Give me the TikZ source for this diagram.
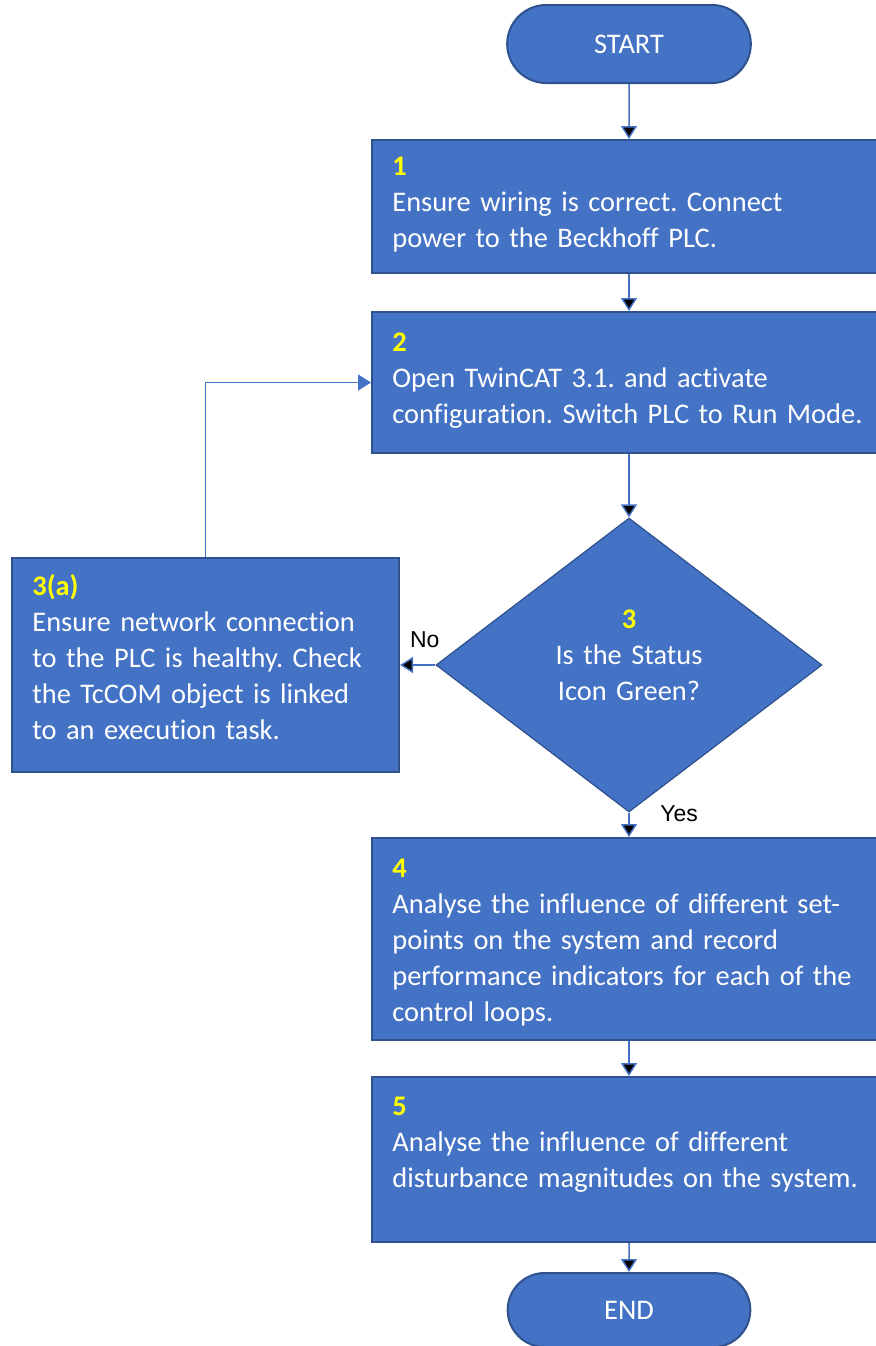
\documentclass[tikz,border=0pt]{standalone}
\usepackage{fontspec}
\setmainfont{Carlito}[Ligatures=CommonOff]
\newfontfamily\labelfont{Liberation Sans}
\usetikzlibrary{shapes.geometric,shapes.misc,arrows.meta}
\frenchspacing

\definecolor{boxfill}{HTML}{4472C4}
\definecolor{boxedge}{HTML}{2F528F}
\definecolor{stepyellow}{HTML}{FFFF00}
\newcommand{\stepno}[1]{\textcolor{stepyellow}{\textbf{#1}}}

\tikzset{
	stepbox/.style={shape=rectangle, draw=boxedge, fill=boxfill, line width=1pt, inner sep=0pt},
	terminal/.style={shape=rounded rectangle, draw=boxedge, fill=boxfill, line width=1pt, text=white, font=\fontsize{14.2}{18}\selectfont},
	decision/.style={shape=diamond, draw=boxedge, fill=boxfill, line width=0.6pt, inner sep=0pt},
	steptext/.style={anchor=base west, align=left, text width=260pt, inner sep=0pt, text=white, font=\fontsize{14.2}{18}\selectfont},
	flow/.style={draw=boxfill, line width=0.75pt, -{Triangle[width=8pt,length=6.5pt]}},
	answer/.style={font=\labelfont\fontsize{11.5}{14}\selectfont, text=black}
}

\begin{document}
\begin{tikzpicture}[x=0.5pt, y=-0.5pt]
	\useasboundingbox (0,0) rectangle (876,1346);
	\clip (0,0) rectangle (876,1346);

	% shapes
	\node[terminal, minimum width=128.5pt, minimum height=39pt] (start) at (629,44)     {START};
	\node[stepbox, minimum width=257pt, minimum height=66.5pt]  (s1)    at (629,206.5)  {};
	\node[stepbox, minimum width=257pt, minimum height=70.5pt]  (s2)    at (629,382.5)  {};
	\node[decision, minimum width=193pt, minimum height=147pt]  (q3)    at (629,665)    {};
	\node[stepbox, minimum width=193.5pt, minimum height=107pt] (s3a)   at (205.5,665)  {};
	\node[stepbox, minimum width=257pt, minimum height=101pt]   (s4)    at (629,939)    {};
	\node[stepbox, minimum width=257pt, minimum height=82.5pt]  (s5)    at (629,1159.5) {};
	\node[terminal, minimum width=128pt, minimum height=37pt]   (end)   at (629,1310)   {END};

	% texts
	\node[steptext] (t1) at (392,175) {\stepno{1}\\Ensure wiring is correct. Connect\\power to the Beckhoff PLC.};
	\node[steptext] (t2) at (392,351) {\stepno{2}\\Open TwinCAT 3.1. and activate\\configuration. Switch PLC to Run Mode.};
	\node[steptext, text width=185pt] (t3a) at (32,595) {\stepno{3(a)}\\Ensure network connection\\to the PLC is healthy. Check\\the TcCOM object is linked\\to an execution task.};
	\node[steptext, text width=120pt, align=center, anchor=base] (t3) at (629,628) {\stepno{3}\\Is the Status\\Icon Green?};
	\node[steptext] (t4) at (392,877) {\stepno{4}\\Analyse the influence of different set-\\points on the system and record\\performance indicators for each of the\\control loops.};
	\node[steptext] (t5) at (392,1115) {\stepno{5}\\Analyse the influence of different\\disturbance magnitudes on the system.};

	% connectors
	\path[flow] (start) edge (s1);
	\path[flow] (s1) edge (s2);
	\path[flow] (s2) edge (q3);
	\path[flow] (q3) edge node[answer, pos=0.3, above=5pt]{No} (s3a);
	\path[flow] (q3) edge node[answer, pos=0.05, right=12pt]{Yes} (s4);
	\path[flow] (s4) edge (s5);
	\path[flow] (s5) edge (end);
	\draw[flow] (s3a) |- (s2);

\end{tikzpicture}
\end{document}
